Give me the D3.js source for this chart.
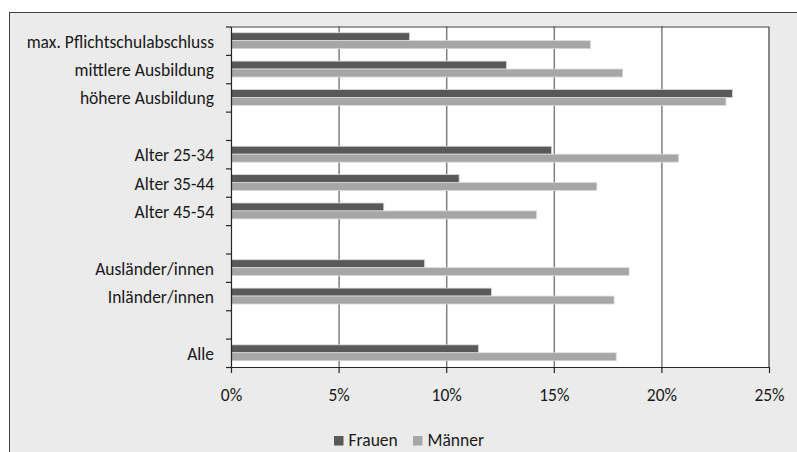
<!DOCTYPE html>
<html>
<head>
<meta charset="utf-8">
<script src="https://cdn.jsdelivr.net/npm/d3@7"></script>
<style>
  body { margin: 0; background: #fff; }
  text { font-family: Carlito, Lato, sans-serif; fill: #1a1a1a; }
</style>
</head>
<body>
<div id="chart"></div>
<script>
// slots with empty strings are the gaps between groups
var categories = ['max. Pflichtschulabschluss', 'mittlere Ausbildung', 'höhere Ausbildung', '',
                  'Alter 25-34', 'Alter 35-44', 'Alter 45-54', '',
                  'Ausländer/innen', 'Inländer/innen', '', 'Alle'];
var frauen  = [8.3, 12.8, 23.3, null, 14.9, 10.6, 7.1, null, 9.0, 12.1, null, 11.5];
var maenner = [16.7, 18.2, 23.0, null, 20.8, 17.0, 14.2, null, 18.5, 17.8, null, 17.9];
var series = ['Frauen', 'Männer'];
var xTicks = [0, 5, 10, 15, 20, 25];

var W = 797, H = 452;
var margin = {top: 26.5, right: 28, bottom: 85, left: 231},
    width = 769 - margin.left,
    height = 367 - margin.top;
var colors = {'Frauen': '#595959', 'Männer': '#a6a6a6'};
var fontSize = 17.5;

var svg = d3.select('#chart').append('svg')
    .attr('width', W).attr('height', H);

// outer chart frame
svg.append('rect')
    .attr('x', 9.5).attr('y', 12.5)
    .attr('width', W + 10).attr('height', H + 10)
    .attr('fill', '#ebebeb').attr('stroke', '#404040').attr('stroke-width', 1);

var g = svg.append('g')
    .attr('transform', 'translate(' + margin.left + ',' + margin.top + ')');

var x = d3.scaleLinear().domain([0, 25]).range([0, width]);
var y = d3.scaleBand().domain(d3.range(categories.length)).range([0, height])
    .paddingInner(0.44).paddingOuter(0.22);
var ySub = d3.scaleBand().domain(series).range([0, y.bandwidth()]);
var yEdge = d3.scaleLinear().domain([0, categories.length]).range([0, height]);

g.append('rect').attr('width', width).attr('height', height).attr('fill', '#fff');

// gridlines
g.append('g')
    .attr('transform', 'translate(0,' + height + ')')
    .call(d3.axisBottom(x).tickValues(xTicks.slice(1, -1)).tickSize(height).tickFormat(''))
    .call(function(s) {
      s.select('.domain').remove();
      s.selectAll('line').attr('stroke', '#7f7f7f').attr('stroke-width', 1.5)
          .attr('transform', 'translate(0,' + (-height) + ')');
    });

// bars
var rows = categories.map(function(c, i) {
  return {i: i, values: [{k: 'Frauen', v: frauen[i]}, {k: 'Männer', v: maenner[i]}]};
}).filter(function(r) { return r.values[0].v != null; });

g.selectAll('.row').data(rows).enter().append('g')
    .attr('transform', function(d) { return 'translate(0,' + y(d.i) + ')'; })
  .selectAll('rect').data(function(d) { return d.values; }).enter().append('rect')
    .attr('x', x(0))
    .attr('y', function(d) { return ySub(d.k); })
    .attr('width', function(d) { return x(d.v) - x(0); })
    .attr('height', ySub.bandwidth())
    .attr('fill', function(d) { return colors[d.k]; })
    .attr('stroke', '#d9d9d9').attr('stroke-width', 0.8);

// plot border top/right
g.append('path')
    .attr('d', 'M0,0.5H' + width + 'V' + height)
    .attr('fill', 'none').attr('stroke', '#404040').attr('stroke-width', 1.2);

// x axis
g.append('g')
    .attr('transform', 'translate(0,' + height + ')')
    .call(d3.axisBottom(x).tickValues(xTicks).tickSize(6).tickSizeOuter(0)
        .tickFormat(function(d) { return d + '%'; }))
    .call(function(s) {
      s.select('.domain').attr('stroke', '#262626').attr('stroke-width', 1.2);
      s.selectAll('line').attr('stroke', '#262626').attr('stroke-width', 1.2);
      s.selectAll('text').attr('font-size', fontSize).attr('dy', 0).attr('y', 34);
    });

// y axis: ticks on slot edges, labels centred in slots
g.append('g')
    .call(d3.axisLeft(yEdge).tickValues(d3.range(categories.length + 1)).tickSize(5)
        .tickSizeOuter(0).tickFormat(''))
    .call(function(s) {
      s.select('.domain').attr('stroke', '#262626').attr('stroke-width', 1.2);
      s.selectAll('line').attr('stroke', '#262626').attr('stroke-width', 1.2);
    });

g.append('g')
    .call(d3.axisLeft(y).tickSize(0).tickPadding(17)
        .tickFormat(function(i) { return categories[i]; }))
    .call(function(s) {
      s.select('.domain').remove();
      s.selectAll('text').attr('font-size', fontSize).attr('dy', '0.4em');
    });

// legend
var legendX = [334, 413];
var legend = svg.append('g').attr('transform', 'translate(0,440)');
series.forEach(function(k, i) {
  legend.append('rect').attr('x', legendX[i]).attr('y', -4).attr('width', 9.5).attr('height', 9.5)
      .attr('fill', colors[k]);
  legend.append('text').attr('x', legendX[i] + 14.5).attr('y', 5.5)
      .attr('font-size', fontSize).text(k);
});
</script>
</body>
</html>
